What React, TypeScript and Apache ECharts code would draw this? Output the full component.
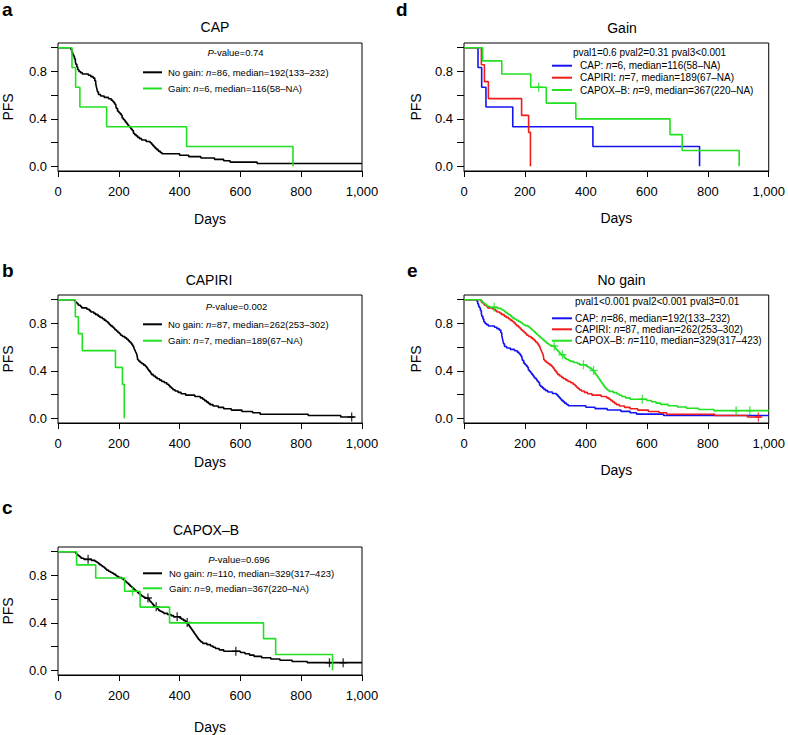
import React, { useEffect, useRef } from "react";
import * as echarts from "echarts";

// ---------- DATA (Kaplan–Meier step points: [day, PFS from that day on]) ----------
const capNoGain: [number, number][] = [
  [0, 1], [42, 0.988], [45, 0.965], [48, 0.942], [51, 0.93], [54, 0.907], [57, 0.884], [59, 0.86],
  [62, 0.837], [65, 0.814], [69, 0.8], [74, 0.79], [80, 0.779], [100, 0.768], [108, 0.756], [116, 0.744],
  [121, 0.721], [124, 0.698], [126, 0.674], [128, 0.651], [130, 0.628], [133, 0.605], [140, 0.593],
  [152, 0.581], [166, 0.57], [175, 0.558], [180, 0.547], [184, 0.535], [187, 0.523], [190, 0.512],
  [192, 0.488], [196, 0.465], [200, 0.453], [204, 0.442], [208, 0.43], [211, 0.407], [215, 0.395],
  [219, 0.384], [222, 0.372], [226, 0.36], [229, 0.349], [232, 0.337], [237, 0.326], [240, 0.314],
  [244, 0.302], [248, 0.279], [252, 0.267], [257, 0.256], [262, 0.244], [268, 0.233], [275, 0.221],
  [290, 0.209], [303, 0.198], [308, 0.186], [312, 0.174], [316, 0.163], [320, 0.151], [325, 0.14],
  [330, 0.128], [336, 0.116], [342, 0.105], [400, 0.093], [430, 0.081], [470, 0.07], [515, 0.058],
  [545, 0.047], [566, 0.035], [655, 0.023], [1000, 0.023],
];
const capNoGainCensor: number[] = [];

const capiriNoGain: [number, number][] = [
  [0, 1], [55, 0.989], [58, 0.977], [63, 0.966], [67, 0.954], [74, 0.943], [78, 0.931], [95, 0.92],
  [103, 0.908], [108, 0.897], [118, 0.885], [124, 0.874], [132, 0.862], [138, 0.851], [146, 0.839],
  [152, 0.828], [158, 0.816], [164, 0.805], [168, 0.793], [172, 0.782], [178, 0.77], [183, 0.759],
  [187, 0.747], [192, 0.736], [197, 0.724], [202, 0.713], [206, 0.701], [212, 0.69], [220, 0.678],
  [226, 0.667], [231, 0.655], [235, 0.644], [240, 0.632], [243, 0.621], [246, 0.609], [249, 0.598],
  [251, 0.586], [253, 0.575], [255, 0.563], [257, 0.552], [259, 0.54], [260, 0.529], [261, 0.517],
  [262, 0.494], [265, 0.483], [270, 0.471], [276, 0.46], [282, 0.448], [288, 0.437], [292, 0.425],
  [295, 0.414], [298, 0.402], [302, 0.391], [305, 0.379], [308, 0.368], [314, 0.356], [320, 0.345],
  [326, 0.333], [334, 0.322], [341, 0.31], [350, 0.299], [358, 0.287], [364, 0.276], [368, 0.264],
  [373, 0.253], [378, 0.241], [385, 0.23], [395, 0.218], [405, 0.207], [420, 0.195], [450, 0.184],
  [468, 0.172], [476, 0.161], [482, 0.149], [488, 0.138], [494, 0.126], [500, 0.115], [510, 0.103],
  [527, 0.092], [545, 0.08], [570, 0.069], [605, 0.057], [640, 0.046], [665, 0.034], [823, 0.023],
  [930, 0.011], [975, 0.011],
];
const capiriNoGainCensor: number[] = [966];

const capoxNoGain: [number, number][] = [
  [0, 1], [57, 0.991], [60, 0.982], [63, 0.973], [68, 0.964], [72, 0.955], [76, 0.945], [85, 0.936],
  [110, 0.927], [122, 0.918], [128, 0.909], [133, 0.9], [137, 0.891], [142, 0.882], [147, 0.873],
  [152, 0.864], [156, 0.855], [160, 0.845], [166, 0.836], [172, 0.827], [178, 0.818], [184, 0.809],
  [190, 0.8], [194, 0.791], [200, 0.782], [210, 0.773], [215, 0.764], [219, 0.755], [223, 0.745],
  [227, 0.736], [231, 0.727], [235, 0.718], [238, 0.709], [242, 0.7], [246, 0.691], [250, 0.682],
  [254, 0.673], [258, 0.664], [262, 0.655], [266, 0.645], [270, 0.636], [275, 0.627], [280, 0.618],
  [286, 0.609], [298, 0.6], [301, 0.59], [303, 0.581], [306, 0.572], [309, 0.563], [312, 0.554],
  [315, 0.545], [318, 0.536], [327, 0.526], [329, 0.517], [331, 0.507], [335, 0.498], [342, 0.489],
  [348, 0.48], [360, 0.47], [372, 0.461], [380, 0.452], [400, 0.442], [405, 0.433], [412, 0.423],
  [418, 0.413], [422, 0.403], [426, 0.392], [429, 0.381], [432, 0.37], [435, 0.359], [438, 0.348],
  [441, 0.337], [444, 0.326], [447, 0.315], [450, 0.304], [453, 0.293], [456, 0.282], [459, 0.271],
  [462, 0.26], [466, 0.249], [470, 0.238], [476, 0.227], [490, 0.216], [502, 0.205], [510, 0.194],
  [518, 0.183], [530, 0.172], [545, 0.161], [600, 0.15], [615, 0.139], [630, 0.128], [645, 0.117],
  [670, 0.106], [700, 0.095], [730, 0.085], [770, 0.074], [820, 0.064], [1000, 0.064],
];
const capoxNoGainCensor: number[] = [99, 296, 323, 392, 425, 585, 893, 938];

const capGain: [number, number][] = [
  [0, 1], [46, 0.833], [58, 0.667], [72, 0.5], [160, 0.333], [423, 0.167], [773, 0],
];
const capGainCensor: number[] = [];

const capiriGain: [number, number][] = [
  [0, 1], [57, 0.857], [67, 0.714], [80, 0.571], [189, 0.429], [212, 0.286], [218, 0],
];
const capiriGainCensor: number[] = [];

const capoxGain: [number, number][] = [
  [0, 1], [61, 0.889], [124, 0.778], [219, 0.667], [270, 0.533], [367, 0.4], [676, 0.267],
  [716, 0.133], [903, 0],
];
const capoxGainCensor: number[] = [245];

const xTickValues = [0, 200, 400, 600, 800, 1000];
const yTickValues = [0, 0.2, 0.4, 0.6, 0.8, 1.0];
const yLabelValues = [0, 0.4, 0.8];

// ---------- STYLE / LAYOUT ----------
const FONT = '"Liberation Sans", Arial, Helvetica, sans-serif';
const BLACK = "#000000";
const GREEN = "#22e022";
const BLUE = "#1414f0";
const RED = "#f01c1c";

type Curve = { data: [number, number][]; censor: number[]; color: string };
type Panel = {
  letter: string; letterX: number; letterY: number;
  title: string; titleX: number; titleY: number;
  grid: { left: number; top: number; width: number; height: number };
  daysGap: number; pfsGap: number; textSize: number;
  curves: Curve[];
  pval: { text: string; x: number; y: number; align: string };
  legend: { lineX1: number; lineX2: number; textX: number; rows: number[]; labels: string[] };
};

const panels: Panel[] = [
  {
    letter: "a", letterX: 2, letterY: 9.5, title: "CAP", titleX: 215, titleY: 27,
    grid: { left: 58, top: 43, width: 304, height: 128 }, daysGap: 41, pfsGap: 43, textSize: 9.5,
    curves: [
      { data: capNoGain, censor: capNoGainCensor, color: BLACK },
      { data: capGain, censor: capGainCensor, color: GREEN },
    ],
    pval: { text: "{i|P}-value=0.74", x: 235.5, y: 52.5, align: "center" },
    legend: {
      lineX1: 143, lineX2: 162, textX: 168, rows: [72.3, 88.5],
      labels: ["No gain: {i|n}=86, median=192(133–232)", "Gain: {i|n}=6, median=116(58–NA)"],
    },
  },
  {
    letter: "b", letterX: 2, letterY: 270, title: "CAPIRI", titleX: 209, titleY: 280,
    grid: { left: 58, top: 295, width: 304, height: 128 }, daysGap: 32, pfsGap: 43, textSize: 9.5,
    curves: [
      { data: capiriNoGain, censor: capiriNoGainCensor, color: BLACK },
      { data: capiriGain, censor: capiriGainCensor, color: GREEN },
    ],
    pval: { text: "{i|P}-value=0.002", x: 236.5, y: 306, align: "center" },
    legend: {
      lineX1: 143, lineX2: 162, textX: 168, rows: [324.3, 340.7],
      labels: ["No gain: {i|n}=87, median=262(253–302)", "Gain: {i|n}=7, median=189(67–NA)"],
    },
  },
  {
    letter: "c", letterX: 2, letterY: 507, title: "CAPOX–B", titleX: 206, titleY: 530,
    grid: { left: 58, top: 547, width: 304, height: 128 }, daysGap: 44.5, pfsGap: 43, textSize: 9.5,
    curves: [
      { data: capoxNoGain, censor: capoxNoGainCensor, color: BLACK },
      { data: capoxGain, censor: capoxGainCensor, color: GREEN },
    ],
    pval: { text: "{i|P}-value=0.696", x: 239, y: 559, align: "center" },
    legend: {
      lineX1: 143, lineX2: 162, textX: 169, rows: [573.3, 588.3],
      labels: ["No gain: {i|n}=110, median=329(317–423)", "Gain: {i|n}=9, median=367(220–NA)"],
    },
  },
  {
    letter: "d", letterX: 396, letterY: 9.5, title: "Gain", titleX: 622, titleY: 28,
    grid: { left: 464, top: 43, width: 305, height: 128 }, daysGap: 40, pfsGap: 41, textSize: 10,
    curves: [
      { data: capGain, censor: capGainCensor, color: BLUE },
      { data: capiriGain, censor: capiriGainCensor, color: RED },
      { data: capoxGain, censor: capoxGainCensor, color: GREEN },
    ],
    pval: { text: "pval1=0.6 pval2=0.31 pval3<0.001", x: 573, y: 52.7, align: "left" },
    legend: {
      lineX1: 552, lineX2: 572, textX: 580, rows: [65.7, 77.7, 90],
      labels: [
        "CAP: {i|n}=6, median=116(58–NA)",
        "CAPIRI: {i|n}=7, median=189(67–NA)",
        "CAPOX–B: {i|n}=9, median=367(220–NA)",
      ],
    },
  },
  {
    letter: "e", letterX: 407, letterY: 270, title: "No gain", titleX: 621.5, titleY: 280,
    grid: { left: 464, top: 295, width: 305, height: 128 }, daysGap: 40, pfsGap: 41, textSize: 10,
    curves: [
      { data: capNoGain, censor: capNoGainCensor, color: BLUE },
      { data: capiriNoGain, censor: capiriNoGainCensor, color: RED },
      { data: capoxNoGain, censor: capoxNoGainCensor, color: GREEN },
    ],
    pval: { text: "pval1<0.001 pval2<0.001 pval3=0.01", x: 575, y: 301.7, align: "left" },
    legend: {
      lineX1: 552, lineX2: 572, textX: 575, rows: [318.3, 329.3, 340.7],
      labels: [
        "CAP: {i|n}=86, median=192(133–232)",
        "CAPIRI: {i|n}=87, median=262(253–302)",
        "CAPOX–B: {i|n}=110, median=329(317–423)",
      ],
    },
  },
];

function survivalAt(data: [number, number][], day: number): number {
  let s = data[0][1];
  for (const [t, v] of data) {
    if (t <= day) s = v;
    else break;
  }
  return s;
}

function withComma(v: number): string {
  return String(v).replace(/\B(?=(\d{3})+(?!\d))/g, ",");
}

function buildOption(): any {
  const grids: any[] = [];
  const xAxes: any[] = [];
  const yAxes: any[] = [];
  const series: any[] = [];
  const graphics: any[] = [];

  panels.forEach((p, i) => {
    grids.push({
      left: p.grid.left, top: p.grid.top, width: p.grid.width, height: p.grid.height,
      show: true, borderColor: BLACK, borderWidth: 1, backgroundColor: "transparent", containLabel: false,
    });
    xAxes.push({
      type: "value", gridIndex: i, min: xTickValues[0], max: xTickValues[xTickValues.length - 1], interval: 200,
      name: "Days", nameLocation: "middle", nameGap: p.daysGap,
      nameTextStyle: { fontSize: 14, color: BLACK, fontFamily: FONT },
      axisLine: { show: true, onZero: false, lineStyle: { color: BLACK, width: 1 } },
      axisTick: { show: true, inside: false, length: 6, lineStyle: { color: BLACK, width: 1 } },
      axisLabel: { show: true, margin: 14, fontSize: 13, color: BLACK, fontFamily: FONT, formatter: (v: number) => withComma(v), showMinLabel: true, showMaxLabel: true },
      splitLine: { show: false },
    });
    yAxes.push({
      type: "value", gridIndex: i, min: -0.04, max: 1.04,
      name: "PFS", nameLocation: "middle", nameGap: p.pfsGap, nameRotate: 90,
      nameTextStyle: { fontSize: 14, color: BLACK, fontFamily: FONT },
      axisLine: { show: false },
      axisTick: { show: true, inside: false, length: 7, customValues: yTickValues, lineStyle: { color: BLACK, width: 1 } },
      axisLabel: { show: true, margin: 11, fontSize: 13, color: BLACK, fontFamily: FONT, customValues: yLabelValues, formatter: (v: number) => v.toFixed(1) },
      splitLine: { show: false },
    });

    p.curves.forEach((c, k) => {
      series.push({
        type: "line", xAxisIndex: i, yAxisIndex: i, data: c.data, step: "end",
        showSymbol: false, symbol: "none", silent: true, z: 2 + k,
        lineStyle: { color: c.color, width: 1.6 }, itemStyle: { color: c.color },
      });
      if (c.censor.length) {
        series.push({
          type: "scatter", xAxisIndex: i, yAxisIndex: i, silent: true, z: 2 + k,
          data: c.censor.map((d) => [d, survivalAt(c.data, d)]),
          symbol: "path://M5,0L5,10M0,5L10,5", symbolSize: [8, 9],
          itemStyle: { color: c.color, borderColor: c.color, borderWidth: 1.4 },
        });
      }
    });

    graphics.push({
      type: "text", x: p.letterX, y: p.letterY,
      style: { text: p.letter, fontSize: 19, lineHeight: 19, fontWeight: "bold", fill: BLACK, fontFamily: FONT, align: "left", verticalAlign: "middle" },
    });
    graphics.push({
      type: "text", x: p.titleX, y: p.titleY,
      style: { text: p.title, fontSize: 14, fill: BLACK, fontFamily: FONT, align: "center", verticalAlign: "middle" },
    });
    graphics.push({
      type: "text", x: p.pval.x, y: p.pval.y,
      style: {
        text: p.pval.text, fontSize: p.textSize, fill: BLACK, fontFamily: FONT, align: p.pval.align, verticalAlign: "middle",
        rich: { i: { fontStyle: "italic", fontSize: p.textSize, fill: BLACK, fontFamily: FONT } },
      },
    });
    p.legend.rows.forEach((ry, r) => {
      graphics.push({
        type: "line", shape: { x1: p.legend.lineX1, y1: ry, x2: p.legend.lineX2, y2: ry },
        style: { stroke: p.curves[r].color, lineWidth: 2 },
      });
      graphics.push({
        type: "text", x: p.legend.textX, y: ry,
        style: {
          text: p.legend.labels[r], fontSize: p.textSize, fill: BLACK, fontFamily: FONT, align: "left", verticalAlign: "middle",
          rich: { i: { fontStyle: "italic", fontSize: p.textSize, fill: BLACK, fontFamily: FONT } },
        },
      });
    });
  });

  return {
    animation: false,
    backgroundColor: "#ffffff",
    textStyle: { fontFamily: FONT },
    grid: grids,
    xAxis: xAxes,
    yAxis: yAxes,
    series,
    graphic: graphics,
  };
}

export default function App() {
  const ref = useRef<HTMLDivElement>(null);
  useEffect(() => {
    if (!ref.current) return;
    const chart = echarts.init(ref.current, undefined, { renderer: "svg", width: 788, height: 735 });
    chart.setOption(buildOption());
    return () => chart.dispose();
  }, []);
  return <div ref={ref} style={{ position: "absolute", left: 0, top: 0, width: 788, height: 735 }} />;
}
